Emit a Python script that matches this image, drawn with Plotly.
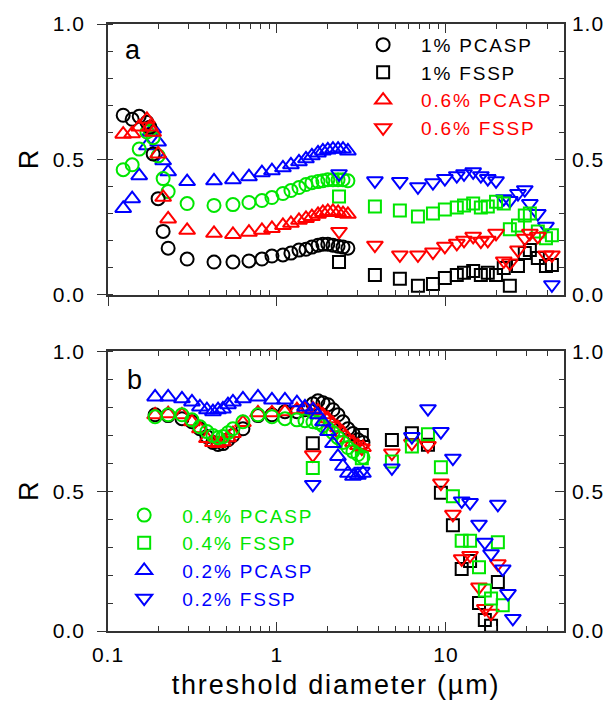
import math
import plotly.graph_objects as go

# ---------------- data ----------------
# panel a : PCASP threshold diameters (um) and R for each supersaturation
pcasp_d_a = [0.123, 0.139, 0.153, 0.170, 0.177, 0.185, 0.198, 0.212, 0.227, 0.294,
             0.424, 0.549, 0.683, 0.815, 0.934, 1.085, 1.21, 1.35, 1.485, 1.61,
             1.75, 1.87, 2.0, 2.145, 2.3, 2.46, 2.63]
r_a_pcasp_1 = [0.663, 0.648, 0.659, 0.637, 0.619, 0.520, 0.355, 0.234, 0.172, 0.132,
               0.121, 0.121, 0.125, 0.132, 0.143, 0.147, 0.154, 0.165, 0.168, 0.176,
               0.183, 0.187, 0.187, 0.183, 0.179, 0.176, 0.172]
r_a_pcasp_06 = [0.593, 0.595, 0.620, 0.648, 0.620, 0.600, 0.520, 0.360, 0.280, 0.238,
                0.227, 0.223, 0.231, 0.238, 0.245, 0.256, 0.264, 0.275, 0.282, 0.289,
                0.297, 0.304, 0.308, 0.308, 0.304, 0.300, 0.297]
r_a_pcasp_04 = [0.462, 0.480, 0.538, 0.601, 0.608, 0.580, 0.513, 0.429, 0.381, 0.337,
                0.330, 0.333, 0.341, 0.348, 0.359, 0.374, 0.385, 0.396, 0.407, 0.414,
                0.418, 0.421, 0.425, 0.425, 0.425, 0.425, 0.421]
r_a_pcasp_02 = [0.319, 0.355, 0.440, 0.550, 0.600, 0.612, 0.564, 0.495, 0.454, 0.418,
                0.421, 0.425, 0.436, 0.451, 0.458, 0.469, 0.480, 0.491, 0.502, 0.513,
                0.524, 0.531, 0.535, 0.538, 0.538, 0.538, 0.531]

# panel a : FSSP threshold diameters (um) and R
fssp_d_a = [2.33, 3.80, 5.34, 6.83, 8.38, 9.86, 11.6, 12.8, 14.5, 16.1,
            17.7, 19.8, 22.0, 23.9, 26.7, 29.3, 31.4, 35.0, 39.1, 42.4]
r_a_fssp_1 = [0.121, 0.073, 0.059, 0.033, 0.040, 0.062, 0.073, 0.081, 0.088, 0.073,
              0.081, 0.073, 0.099, 0.033, 0.106, 0.154, 0.165, 0.136, 0.106, 0.110]
r_a_fssp_06 = [0.234, 0.183, 0.147, 0.147, 0.158, 0.179, 0.190, 0.201, 0.216, 0.198,
               0.201, 0.227, 0.125, 0.117, 0.165, 0.209, 0.227, 0.216, 0.147, 0.147]
r_a_fssp_04 = [0.363, 0.326, 0.311, 0.289, 0.300, 0.315, 0.322, 0.330, 0.337, 0.322,
               0.326, 0.344, 0.337, 0.242, 0.256, 0.293, 0.300, 0.234, 0.209, 0.220]
r_a_fssp_02 = [0.447, 0.421, 0.418, 0.399, 0.414, 0.429, 0.440, 0.447, 0.454, 0.440,
               0.429, 0.421, 0.355, 0.348, 0.374, 0.388, 0.337, 0.300, 0.253, 0.037]

# panel b : PCASP
pcasp_d_b = [0.190, 0.227, 0.274, 0.314, 0.350, 0.385, 0.418, 0.448, 0.479, 0.513,
             0.549, 0.629, 0.772, 0.934, 1.115, 1.313, 1.465, 1.633, 1.748, 1.872,
             2.004, 2.145, 2.296, 2.458, 2.631, 2.817, 3.015, 3.228]
r_b_pcasp_1 = [0.773, 0.770, 0.759, 0.748, 0.723, 0.695, 0.674, 0.667, 0.670, 0.684,
               0.699, 0.723, 0.770, 0.773, 0.784, 0.784, 0.791, 0.812, 0.823, 0.816,
               0.809, 0.791, 0.773, 0.748, 0.723, 0.706, 0.684, 0.674]
r_b_pcasp_06 = [0.773, 0.777, 0.773, 0.748, 0.723, 0.688, 0.674, 0.670, 0.677, 0.691,
                0.706, 0.745, 0.780, 0.780, 0.784, 0.791, 0.794, 0.794, 0.787, 0.773,
                0.759, 0.741, 0.727, 0.709, 0.688, 0.674, 0.663, 0.656]
r_b_pcasp_04 = [0.766, 0.773, 0.773, 0.755, 0.730, 0.713, 0.699, 0.691, 0.695, 0.709,
                0.723, 0.748, 0.773, 0.766, 0.759, 0.755, 0.752, 0.748, 0.745, 0.734,
                0.723, 0.709, 0.691, 0.674, 0.656, 0.642, 0.631, 0.621]
r_b_pcasp_02 = [0.837, 0.837, 0.830, 0.819, 0.801, 0.791, 0.784, 0.791, 0.794, 0.809,
                0.819, 0.830, 0.837, 0.826, 0.826, 0.816, 0.801, 0.791, 0.773, 0.748,
                0.713, 0.670, 0.624, 0.589, 0.564, 0.553, 0.557, 0.564]

# panel b : FSSP
fssp_d_b = [1.63, 3.18, 4.79, 6.29, 7.83, 9.34, 11.0, 12.4, 13.9, 15.7,
            17.0, 18.5, 20.3, 21.7, 23.3, 24.9]
r_b_fssp_1 = [0.671, 0.701, 0.683, 0.707, 0.666, 0.494, 0.378, 0.222, 0.250, 0.100,
              0.039, 0.019, 0.175]
r_b_fssp_06 = [0.630, 0.654, 0.636, 0.671, 0.663, 0.529, 0.417, 0.258, 0.270, 0.157,
               0.080, 0.063, 0.240]
r_b_fssp_04 = [0.583, 0.618, 0.606, 0.660, 0.703, 0.585, 0.482, 0.323, 0.323, 0.228,
               0.145, 0.116, 0.317, 0.092]
r_b_fssp_02 = [0.524, 0.571, 0.583, 0.695, 0.795, 0.713, 0.618, 0.465, 0.459, 0.382,
               0.317, 0.276, 0.453, 0.222, 0.134, 0.045]

x_ticks = [0.1, 1, 10]
x_ticktext = ["0.1", "1", "10"]
x_minor = [m * 10 ** e for e in (-1, 0, 1) for m in range(2, 10)]
y_ticks = [0.0, 0.5, 1.0]
y_ticktext = ["0.0", "0.5", "1.0"]

# ---------------- styling ----------------
BLACK, RED, GREEN, BLUE = "#000000", "#ff0000", "#00e600", "#0000ff"
FONT = "Liberation Sans, Arial, Helvetica, sans-serif"
AXIS_COLOR = "#333333"

fig = go.Figure()


def add_series(x, y, symbol, color, name, xa, ya, legend=None, size=13):
    fig.add_trace(go.Scatter(
        x=x[:len(y)], y=y, mode="markers", name=name, xaxis=xa, yaxis=ya,
        marker=dict(symbol=symbol, size=size, color=color, line=dict(width=2)),
        showlegend=legend is not None, legend=legend or "legend",
        cliponaxis=False,
    ))


def label(text, color):
    return f"<span style='color:{color};letter-spacing:1.8px'>{text}</span>"


def spaced(text, px):
    return f"<span style='letter-spacing:{px}px'>{text}</span>"


# panel a
add_series(pcasp_d_a, r_a_pcasp_02, "triangle-up-open", BLUE, "0.2% PCASP", "x", "y", size=14)
add_series(pcasp_d_a, r_a_pcasp_04, "circle-open", GREEN, "0.4% PCASP", "x", "y")
add_series(fssp_d_a, r_a_fssp_02, "triangle-down-open", BLUE, "0.2% FSSP", "x", "y", size=14)
add_series(fssp_d_a, r_a_fssp_04, "square-open", GREEN, "0.4% FSSP", "x", "y", size=12)
add_series(pcasp_d_a, r_a_pcasp_1, "circle-open", BLACK, label("1% PCASP", BLACK), "x", "y", legend="legend")
add_series(fssp_d_a, r_a_fssp_1, "square-open", BLACK, label("1% FSSP", BLACK), "x", "y", legend="legend", size=12)
add_series(pcasp_d_a, r_a_pcasp_06, "triangle-up-open", RED, label("0.6% PCASP", RED), "x", "y", legend="legend", size=14)
add_series(fssp_d_a, r_a_fssp_06, "triangle-down-open", RED, label("0.6% FSSP", RED), "x", "y", legend="legend", size=14)

# panel b
add_series(pcasp_d_b, r_b_pcasp_1, "circle-open", BLACK, "1% PCASP", "x2", "y2")
add_series(fssp_d_b, r_b_fssp_1, "square-open", BLACK, "1% FSSP", "x2", "y2", size=12)
add_series(pcasp_d_b, r_b_pcasp_06, "triangle-up-open", RED, "0.6% PCASP", "x2", "y2", size=14)
add_series(fssp_d_b, r_b_fssp_06, "triangle-down-open", RED, "0.6% FSSP", "x2", "y2", size=14)
add_series(pcasp_d_b, r_b_pcasp_04, "circle-open", GREEN, label("0.4% PCASP", GREEN), "x2", "y2", legend="legend2")
add_series(fssp_d_b, r_b_fssp_04, "square-open", GREEN, label("0.4% FSSP", GREEN), "x2", "y2", legend="legend2", size=12)
add_series(pcasp_d_b, r_b_pcasp_02, "triangle-up-open", BLUE, label("0.2% PCASP", BLUE), "x2", "y2", legend="legend2", size=14)
add_series(fssp_d_b, r_b_fssp_02, "triangle-down-open", BLUE, label("0.2% FSSP", BLUE), "x2", "y2", legend="legend2", size=14)

# empty traces so the top / right frame axes get their own subplots
for xa, ya in (("x3", "y3"), ("x4", "y4")):
    fig.add_trace(go.Scatter(x=[], y=[], mode="markers", xaxis=xa, yaxis=ya,
                             showlegend=False, hoverinfo="skip"))

# ---------------- axes ----------------
x_range = [-1, math.log10(50)]
dom_a = [0.5539, 1.0]
dom_b = [0.0, 0.4608]
TICKFONT = dict(family=FONT, size=21, color="black")
TITLEFONT = dict(family=FONT, size=27, color="black")


def x_axis(anchor, major_ticks, labels, overlay=None, side="bottom", title=None):
    ax = dict(
        type="log", range=x_range, anchor=anchor, side=side,
        tickmode="array", tickvals=x_ticks,
        ticktext=[spaced(t, 1) for t in x_ticktext],
        showticklabels=labels, ticks=major_ticks, ticklen=9, tickwidth=1.3,
        tickcolor=AXIS_COLOR, ticklabelstandoff=4,
        minor=dict(tickmode="array", tickvals=x_minor, ticks="inside", ticklen=5,
                   tickwidth=1.2, tickcolor=AXIS_COLOR, showgrid=False),
        showline=True, linecolor=AXIS_COLOR, linewidth=1.5,
        showgrid=False, zeroline=False, tickfont=TICKFONT,
    )
    if overlay:
        ax["overlaying"] = overlay
    if title:
        ax["title"] = dict(text=spaced(title, 1.8), font=TITLEFONT, standoff=10)
    return ax


def y_axis(anchor, domain, side="left", major_ticks="outside", overlay=None, title=None):
    ax = dict(
        range=[0, 1], anchor=anchor, side=side,
        tickmode="array", tickvals=y_ticks,
        ticktext=[spaced(t, 1) for t in y_ticktext],
        showticklabels=True, ticks=major_ticks, ticklen=9, tickwidth=1.3,
        tickcolor=AXIS_COLOR, ticklabelstandoff=8 if side == "left" else 2,
        minor=dict(dtick=0.1, ticks="inside", ticklen=5, tickwidth=1.2,
                   tickcolor=AXIS_COLOR, showgrid=False),
        showline=True, linecolor=AXIS_COLOR, linewidth=1.5,
        showgrid=False, zeroline=False, tickfont=TICKFONT,
    )
    if overlay:
        ax["overlaying"] = overlay
    else:
        ax["domain"] = domain
    if title:
        ax["title"] = dict(text=title, font=TITLEFONT, standoff=6)
    return ax


fig.update_layout(
    width=616, height=708,
    margin=dict(l=108, r=52, t=19, b=77),
    paper_bgcolor="white", plot_bgcolor="white",
    font=dict(family=FONT, color="black"),
    xaxis=x_axis("y", "outside", False),
    yaxis=y_axis("x", dom_a, title="R"),
    xaxis3=x_axis("y", "inside", False, overlay="x", side="top"),
    yaxis3=y_axis("x", dom_a, side="right", major_ticks="inside", overlay="y"),
    xaxis2=x_axis("y2", "inside", True, title="threshold diameter (µm)"),
    yaxis2=y_axis("x2", dom_b, title="R"),
    xaxis4=x_axis("y2", "inside", False, overlay="x2", side="top"),
    yaxis4=y_axis("x2", dom_b, side="right", major_ticks="inside", overlay="y2"),
    legend=dict(x=0.52, y=0.997, xanchor="left", yanchor="top",
                bgcolor="rgba(0,0,0,0)", itemwidth=66,
                font=dict(family=FONT, size=19), tracegroupgap=0),
    legend2=dict(x=-0.004, y=0.222, xanchor="left", yanchor="top",
                 bgcolor="rgba(0,0,0,0)", itemwidth=66,
                 font=dict(family=FONT, size=19), tracegroupgap=0),
    showlegend=True,
    annotations=[
        dict(text="a", xref="paper", yref="paper", x=0.0548, y=0.9575,
             xanchor="center", yanchor="middle", showarrow=False, font=TITLEFONT),
        dict(text="b", xref="paper", yref="paper", x=0.059, y=0.4134,
             xanchor="center", yanchor="middle", showarrow=False, font=TITLEFONT),
    ],
)

fig.write_html("out.html")
